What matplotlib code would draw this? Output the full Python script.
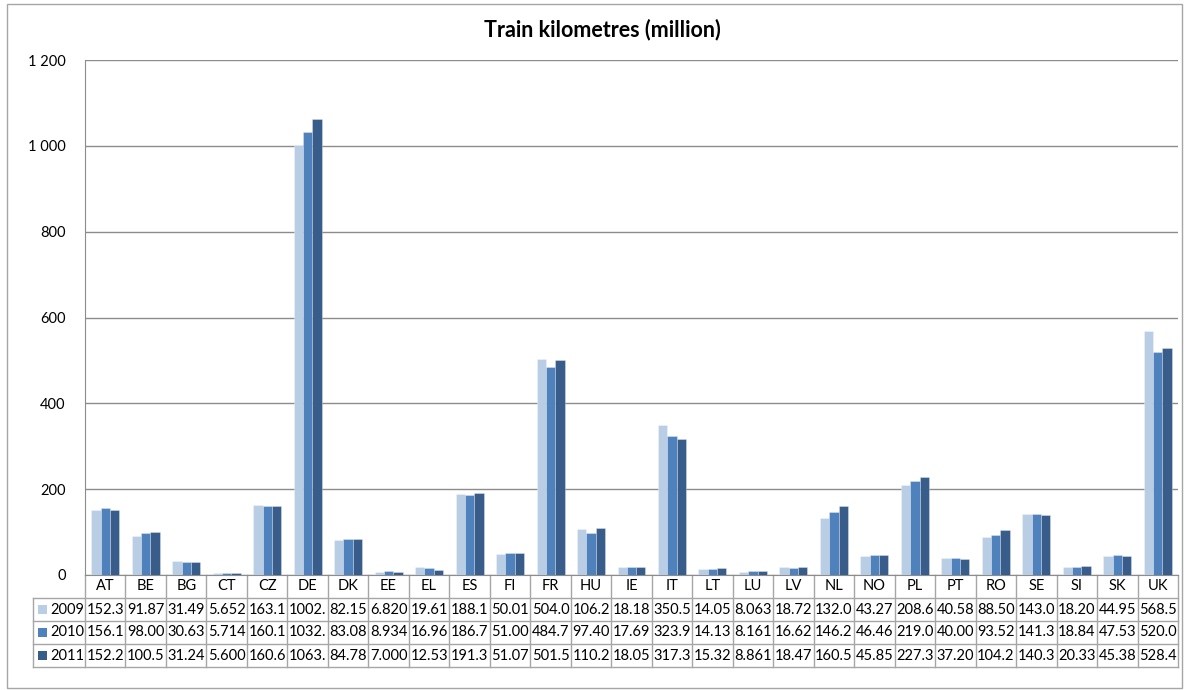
import numpy as np
import matplotlib.pyplot as plt
from matplotlib.patches import Rectangle
from matplotlib.transforms import blended_transform_factory

plt.rcParams['font.family'] = ['Lato', 'DejaVu Sans']

countries = ['AT', 'BE', 'BG', 'CT', 'CZ', 'DE', 'DK', 'EE', 'EL', 'ES', 'FI', 'FR', 'HU', 'IE',
             'IT', 'LT', 'LU', 'LV', 'NL', 'NO', 'PL', 'PT', 'RO', 'SE', 'SI', 'SK', 'UK']
years = ['2009', '2010', '2011']
v2009 = [152.3, 91.87, 31.49, 5.652, 163.1, 1002.0, 82.15, 6.820, 19.61, 188.1, 50.01, 504.0, 106.2, 18.18,
         350.5, 14.05, 8.063, 18.72, 132.0, 43.27, 208.6, 40.58, 88.50, 143.0, 18.20, 44.95, 568.5]
v2010 = [156.1, 98.00, 30.63, 5.714, 160.1, 1032.0, 83.08, 8.934, 16.96, 186.7, 51.00, 484.7, 97.40, 17.69,
         323.9, 14.13, 8.161, 16.62, 146.2, 46.46, 219.0, 40.00, 93.52, 141.3, 18.84, 47.53, 520.0]
v2011 = [152.2, 100.5, 31.24, 5.600, 160.6, 1063.0, 84.78, 7.000, 12.53, 191.3, 51.07, 501.5, 110.2, 18.05,
         317.3, 15.32, 8.861, 18.47, 160.5, 45.85, 227.3, 37.20, 104.2, 140.3, 20.33, 45.38, 528.4]
series = [v2009, v2010, v2011]
colors = ['#B9CDE5', '#4F81BD', '#385D8A']


def fmt(v):
    # excel-like cell text (5 chars)
    if v >= 1000:
        return '%d.' % int(v)
    if v >= 100:
        return '%.1f' % v
    if v >= 10:
        return '%.2f' % v
    return '%.3f' % v


W, H = 1190, 690
fig = plt.figure(figsize=(W / 100, H / 100), dpi=100)
# outer chart border
fig.patches.append(Rectangle((7 / W, 2 / H), 1175 / W, 684 / H, transform=fig.transFigure,
                             fill=False, edgecolor='#A6A6A6', lw=1))

ax = fig.add_axes([85 / W, 115 / H, 1093 / W, 515 / H])
n = len(countries)
x = np.arange(n)
bw = 0.23
for i, vals in enumerate(series):
    ax.bar(x + (i - 1) * bw, vals, width=bw, color=colors[i], edgecolor=(1, 1, 1, 0.35), lw=0.6,
           zorder=3)

ax.set_xlim(-0.5, n - 0.5)
ax.set_ylim(0, 1200)
ax.set_yticks(range(0, 1201, 200))
ax.set_yticklabels([('%d' % t) if t < 1000 else '%d %03d' % (t // 1000, t % 1000)
                    for t in range(0, 1201, 200)], fontsize=10.5)
ax.tick_params(axis='y', length=0, pad=14)
ax.set_xticks([])
ax.grid(axis='y', color='#8C8C8C', lw=1, zorder=0)
for s in ['top', 'right']:
    ax.spines[s].set_visible(False)
for s in ['left', 'bottom']:
    ax.spines[s].set_color('#8C8C8C')

fig.text(602 / W, 1 - 30 / H, 'Train kilometres (million)', ha='center', va='center',
         fontsize=15.5, fontweight='bold')

# data table under the axis
tr = blended_transform_factory(ax.transData, ax.transAxes)
h = 23 / 515
px = 1093 / n  # pixels per category
lab_left = -0.5 - 52 / px
lc = '#A6A6A6'
kw = dict(transform=tr, clip_on=False, color=lc, lw=1)
for k in range(n + 1):
    ax.plot([k - 0.5, k - 0.5], [0, -4 * h], **kw)
ax.plot([lab_left, lab_left], [-h, -4 * h], **kw)
for r in range(1, 5):
    ax.plot([lab_left, n - 0.5], [-r * h, -r * h], **kw)

fs = 10.5
for j, c in enumerate(countries):
    ax.text(j, -0.5 * h, c, transform=tr, ha='center', va='center', fontsize=fs)
    for i, vals in enumerate(series):
        ax.text(j, -(i + 1.5) * h, fmt(vals[j]), transform=tr, ha='center', va='center', fontsize=fs)

for i, yr in enumerate(years):
    yc = -(i + 1.5) * h
    ax.add_patch(Rectangle((lab_left + 5 / px, yc - 4.5 / 515), 9 / px, 9 / 515, transform=tr,
                           clip_on=False, facecolor=colors[i], edgecolor='none'))
    ax.text(lab_left + 17 / px, yc, yr, transform=tr, ha='left', va='center', fontsize=fs)

fig.savefig('out.png', dpi=100)
